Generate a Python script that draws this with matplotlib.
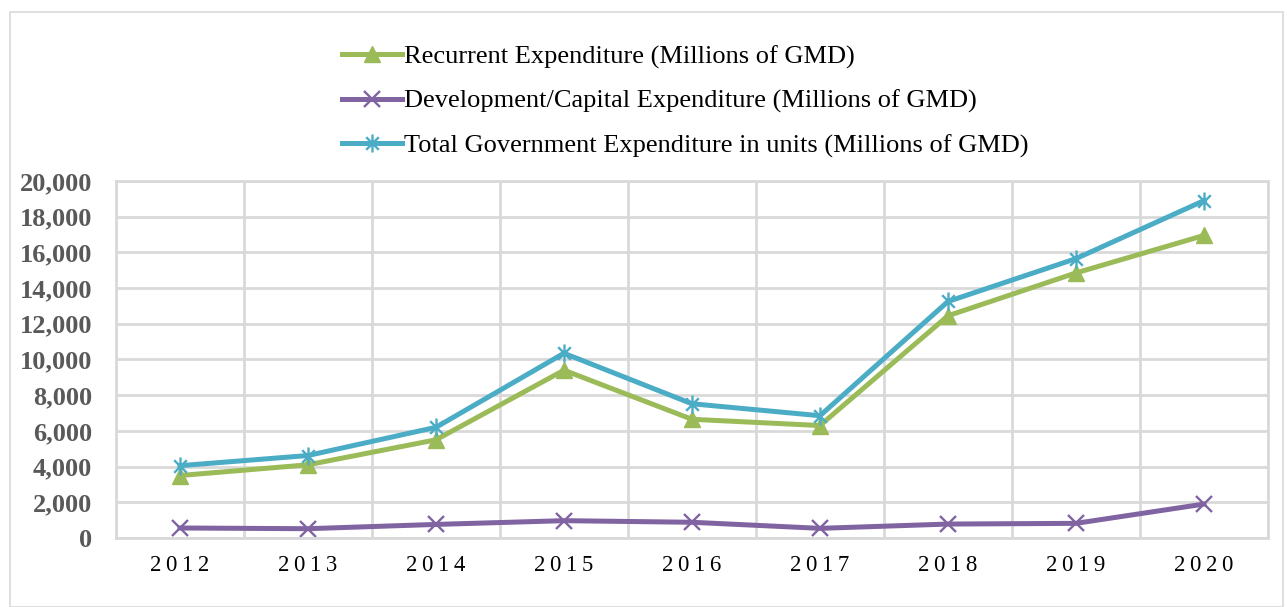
import matplotlib.pyplot as plt
import numpy as np
from matplotlib.path import Path
from matplotlib.patches import Rectangle

# values (Millions of GMD)
years = ['2012', '2013', '2014', '2015', '2016', '2017', '2018', '2019', '2020']
recurrent = [3500, 4100, 5500, 9400, 6650, 6300, 12450, 14850, 16950]
development = [560, 520, 760, 970, 880, 540, 780, 820, 1900]
total = [4050, 4620, 6200, 10350, 7520, 6850, 13250, 15650, 18900]

labels = ['Recurrent Expenditure (Millions of GMD)',
          'Development/Capital Expenditure (Millions of GMD)',
          'Total Government Expenditure in units (Millions of GMD)']

# excel-style star marker: x plus vertical bar
star = Path([(0, -1), (0, 1), (-0.7, -0.7), (0.7, 0.7), (-0.7, 0.7), (0.7, -0.7)],
            [Path.MOVETO, Path.LINETO, Path.MOVETO, Path.LINETO, Path.MOVETO, Path.LINETO])

plt.rcParams['font.family'] = 'Liberation Serif'

fig = plt.figure(figsize=(12.87, 6.07), dpi=100)
ax = fig.add_axes([0.0901, 0.1137, 0.8951, 0.5881])

x = np.arange(len(years))
ax.plot(x, recurrent, color='#9BBB59', lw=3.6, marker='^', ms=12, label=labels[0])
ax.plot(x, development, color='#8064A2', lw=3.6, marker='x', ms=12, mew=1.7, label=labels[1])
ax.plot(x, total, color='#4BACC6', lw=3.6, marker=star, ms=13, mew=1.7, label=labels[2])

ax.set_xlim(-0.5, len(years) - 0.5)
ax.set_ylim(0, 20000)
ax.set_yticks(range(0, 20001, 2000))
ax.set_yticklabels([f'{v:,}' for v in range(0, 20001, 2000)], fontsize=19,
                   fontweight='bold', color='#595959')
ax.set_xticks(x)
ax.set_xticklabels([' '.join(list(y)).replace(' ', '\u2009') for y in years], fontsize=16.5,
                   color='#000000')
ax.set_xticks(np.arange(-0.5, len(years)), minor=True)
ax.grid(True, which='minor', axis='x', color='#d9d9d9', lw=2)
ax.grid(True, which='major', axis='y', color='#d9d9d9', lw=2)
ax.set_axisbelow(True)
ax.tick_params(which='both', length=0)
ax.tick_params(axis='y', pad=17)
ax.tick_params(axis='x', pad=12)
for s in ax.spines.values():
    s.set_color('#d9d9d9')
    s.set_linewidth(2)

leg = fig.legend(loc='upper left', bbox_to_anchor=(0.247, 0.965), frameon=False,
                 fontsize=19, handlelength=2.3, handletextpad=0.08, labelspacing=0.78)

fig.patches.append(Rectangle((0.008, 0.0), 0.989, 0.98, transform=fig.transFigure,
                             fill=False, edgecolor='#d9d9d9', lw=1.2))

fig.savefig('out.png', dpi=100)
